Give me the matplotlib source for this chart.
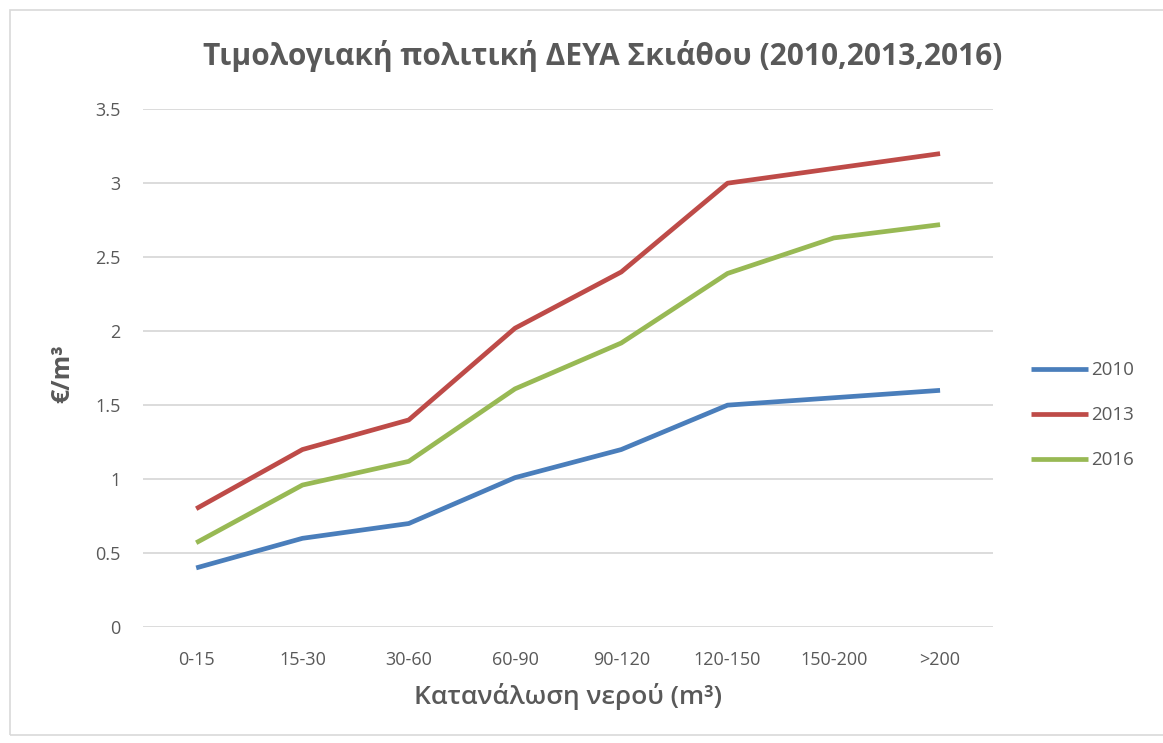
import matplotlib.pyplot as plt
from matplotlib.patches import Rectangle

plt.rcParams['font.family'] = ['Open Sans', 'DejaVu Sans']

#categories of water consumption
categories = ['0-15', '15-30', '30-60', '60-90', '90-120', '120-150', '150-200', '>200']

#price per m3 for each year
price_2010 = [0.40, 0.60, 0.70, 1.01, 1.20, 1.50, 1.55, 1.60]
price_2013 = [0.80, 1.20, 1.40, 2.02, 2.40, 3.00, 3.10, 3.20]
price_2016 = [0.57, 0.96, 1.12, 1.61, 1.92, 2.39, 2.63, 2.72]

years = ['2010', '2013', '2016']
colors = ['#4a7ebb', '#be4b48', '#98b954']

grey = '#595959'

#create figure and axes, set figure size
fig = plt.figure(figsize=(11.63, 7.43), dpi=100)
ax = fig.add_axes([0.123, 0.156, 0.731, 0.697])

#light frame around the chart
fig.patches.append(Rectangle((0.009, 0.011), 0.995, 0.975, transform=fig.transFigure,
                             fill=False, edgecolor='#d9d9d9', linewidth=1.2))

x = range(len(categories))
for vals, lab, col in zip([price_2010, price_2013, price_2016], years, colors):
    ax.plot(x, vals, color=col, linewidth=3.4, label=lab, solid_capstyle='butt')

#axis limits and ticks
ax.set_xlim(-0.5, len(categories) - 0.5)
ax.set_ylim(0, 3.5)
ax.set_yticks([0, 0.5, 1, 1.5, 2, 2.5, 3, 3.5])
ax.set_yticklabels(['0', '0.5', '1', '1.5', '2', '2.5', '3', '3.5'])
ax.set_xticks(list(x))
ax.set_xticklabels(categories)
ax.tick_params(axis='both', length=0, labelsize=13, labelcolor=grey)
ax.tick_params(axis='x', pad=17)
ax.tick_params(axis='y', pad=16)

#grid and spines
ax.grid(axis='y', color='#d9d9d9', linewidth=1.3)
ax.set_axisbelow(True)
for s in ax.spines.values():
    s.set_visible(False)

#labels and title
ax.set_xlabel('Κατανάλωση νερού (m³)', fontsize=19, fontweight='semibold', color=grey, labelpad=10)
ax.set_ylabel('€/m³', fontsize=18, fontweight='bold', color=grey)
ax.yaxis.set_label_coords(-0.080, 0.49)
fig.text(0.518, 0.924, 'Τιμολογιακή πολιτική ΔΕΥΑ Σκιάθου (2010,2013,2016)',
         ha='center', va='center', fontsize=21.5, fontweight='bold', color=grey)

#legend
leg = ax.legend(loc='center left', bbox_to_anchor=(1.025, 0.409), frameon=False,
                fontsize=13.5, labelspacing=1.45, handlelength=3.0, handletextpad=0.2)
for t in leg.get_texts():
    t.set_color(grey)

fig.savefig('out.png', dpi=100)
